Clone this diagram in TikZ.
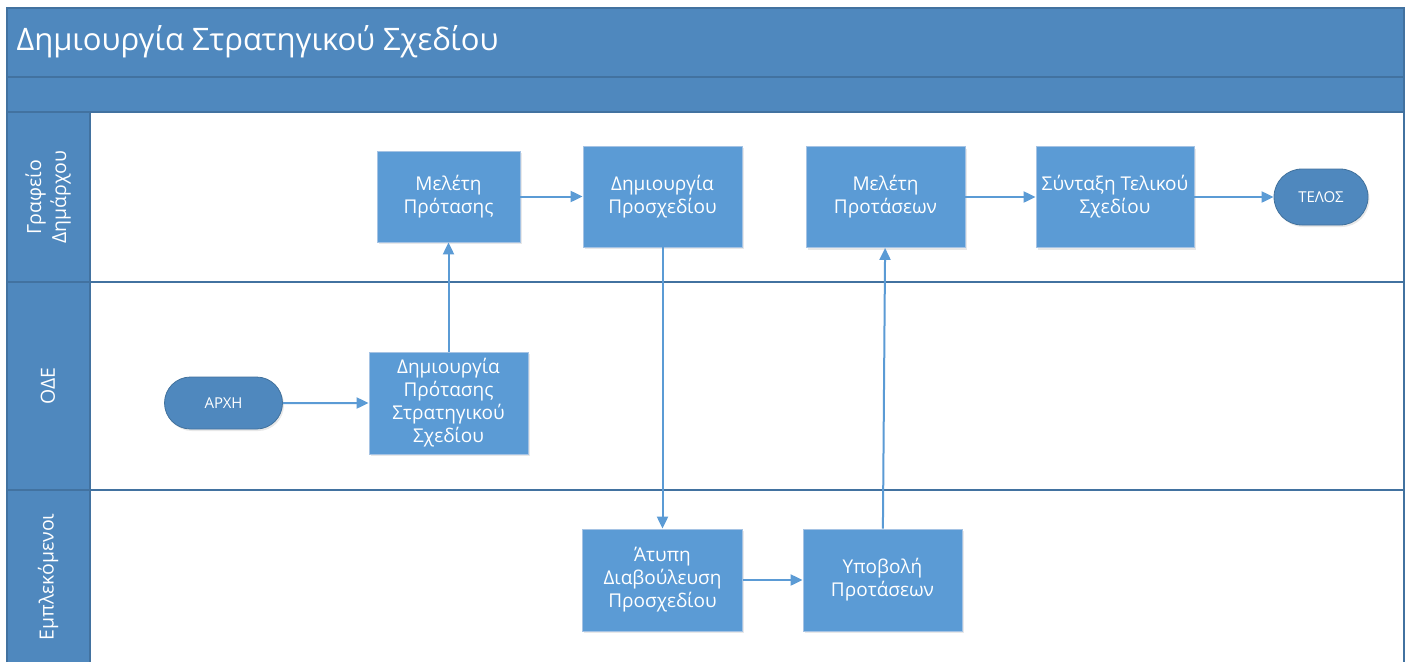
\documentclass[tikz,border=0pt]{standalone}
\usepackage{fontspec}
\setmainfont{Open Sans}
\usetikzlibrary{arrows.meta,shadows,shapes.misc}
\definecolor{laneblue}{RGB}{79,136,190}
\definecolor{laneline}{RGB}{66,114,160}
\definecolor{boxblue}{RGB}{91,155,213}
\definecolor{boxedge}{RGB}{165,195,228}
\definecolor{termedge}{RGB}{65,113,156}
\begin{document}
\begin{tikzpicture}[x=1pt, y=-1pt,
    task/.style={rectangle, fill=boxblue, draw=boxedge, line width=0.8pt, text=white, align=center, inner sep=0pt,
      font=\fontsize{19}{23}\selectfont, drop shadow={opacity=0.18, shadow xshift=1.5pt, shadow yshift=-2pt}},
    term/.style={rounded rectangle, fill=laneblue, draw=termedge, line width=0.8pt, text=white, inner sep=0pt,
      font=\fontsize{15}{18}\selectfont, drop shadow={opacity=0.18, shadow xshift=1.5pt, shadow yshift=-2pt}},
    lanelabel/.style={rotate=90, text=white, align=center, font=\fontsize{19.5}{25}\selectfont},
    flow/.style={-{Triangle[length=12pt, width=11pt]}, draw=boxblue, line width=2pt}]
    \useasboundingbox (0,0) rectangle (1406,662);
    % swimlanes
    \fill[white] (7,112) rectangle (1404,662);
    \fill[laneblue] (7,8) rectangle (1404,112);
    \fill[laneblue] (7,112) rectangle (90,662);
    \draw[laneline, line width=1.2pt] (7,662) -- (7,8) -- (1404,8) -- (1404,662);
    \draw[laneline, line width=1.2pt] (7,77) -- (1404,77);
    \draw[laneline, line width=1.2pt] (7,112) -- (1404,112);
    \draw[laneline, line width=1.2pt] (7,282) -- (1404,282);
    \draw[laneline, line width=1.2pt] (7,490) -- (1404,490);
    \draw[laneline, line width=1.2pt] (90,112) -- (90,662);
    \node[anchor=west, text=white, font=\fontsize{31}{37}\selectfont] (title) at (13,42) {Δημιουργία Στρατηγικού Σχεδίου};
    \node[lanelabel] (lane1) at (48,197) {Γραφείο\\Δημάρχου};
    \node[lanelabel] (lane2) at (48,386) {ΟΔΕ};
    \node[lanelabel] (lane3) at (48,577) {Εμπλεκόμενοι};
    % steps
    \node[term] (start) at (223.5,403) [minimum width=118pt, minimum height=52pt] {ΑΡΧΗ};
    \node[task] (dps) at (448.5,403) [minimum width=159pt, minimum height=102pt] {Δημιουργία\\Πρότασης\\Στρατηγικού\\Σχεδίου};
    \node[task] (ms) at (448.5,196.5) [minimum width=143pt, minimum height=91pt] {Μελέτη\\Πρότασης};
    \node[task] (dp) at (662.5,196.5) [minimum width=159pt, minimum height=101pt] {Δημιουργία\\Προσχεδίου};
    \node[task] (at) at (662.5,580) [minimum width=160pt, minimum height=102pt] {Άτυπη\\Διαβούλευση\\Προσχεδίου};
    \node[task] (yp) at (882.5,580) [minimum width=159pt, minimum height=102pt] {Υποβολή\\Προτάσεων};
    \node[task] (mp) at (885.5,197) [minimum width=159pt, minimum height=101pt] {Μελέτη\\Προτάσεων};
    \node[task] (st) at (1115,197) [minimum width=158pt, minimum height=101pt] {Σύνταξη Τελικού\\Σχεδίου};
    \node[term] (end) at (1321,197) [minimum width=94pt, minimum height=56pt] {ΤΕΛΟΣ};
    % connectors
    \draw[flow] (start) -- (dps);
    \draw[flow] (dps) -- (ms);
    \draw[flow] (ms) -- (dp);
    \draw[flow] (dp) -- (at);
    \draw[flow] (at) -- (yp);
    \draw[flow] (yp) -- (mp);
    \draw[flow] (mp) -- (st);
    \draw[flow] (st) -- (end);
\end{tikzpicture}
\end{document}
